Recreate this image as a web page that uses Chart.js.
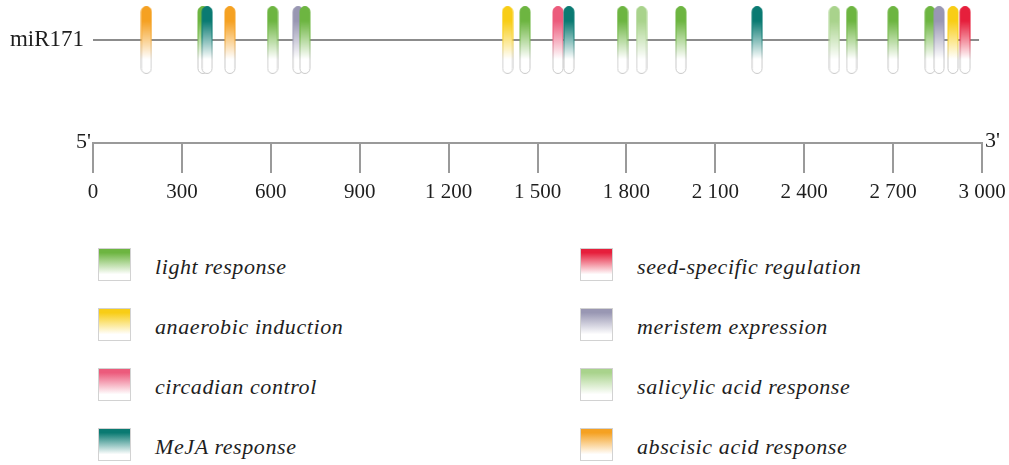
<!DOCTYPE html>
<html>
<head>
<meta charset="utf-8">
<script src="https://cdn.jsdelivr.net/npm/chart.js@4"></script>
<style>
  html, body { margin: 0; padding: 0; background: #fff; }
  body { width: 1009px; height: 465px; position: relative; overflow: hidden; }
  #track { position: absolute; left: 0; top: 0; }
  .legend-col { position: absolute; top: 237px; }
  .legend-item { position: relative; height: 60px; }
  .swatch {
    position: absolute; left: 0; top: 11px; width: 33px; height: 33px;
    box-sizing: border-box; border: 1px solid #d2d2d2;
  }
  .legend-text {
    position: absolute; left: 57px; top: 30px; transform: translateY(-50%);
    font-family: "Liberation Serif", serif;
    font-style: italic; font-size: 22px; letter-spacing: 0.6px;
    color: #1e1e1e; white-space: nowrap;
  }
</style>
</head>
<body>
<canvas id="track" width="1009" height="220"></canvas>
<div id="legendLeft" class="legend-col" style="left:98px"></div>
<div id="legendRight" class="legend-col" style="left:580px"></div>
<script>
// cis-acting element classes, their colours and site positions (bp) along the promoter
const elementNames = [
  'light response', 'anaerobic induction', 'circadian control', 'MeJA response',
  'seed-specific regulation', 'meristem expression', 'salicylic acid response', 'abscisic acid response'
];
const elementColors = [
  '#6db541', '#f8cd16', '#ec5b7c', '#0a7a72',
  '#e61f3c', '#9997b3', '#a9d38c', '#f5a122'
];
const lightResponse       = [371, 606, 715, 1458, 1787, 1984, 2560, 2700, 2825];
const anaerobicInduction  = [1399, 2902];
const circadianControl    = [1569];
const mejaResponse        = [385, 1606, 2241];
const seedSpecific        = [2943];
const meristemExpression  = [692, 2855];
const salicylicResponse   = [1851, 2502];
const abscisicResponse    = [180, 462];
const sitesByElement = [
  lightResponse, anaerobicInduction, circadianControl, mejaResponse,
  seedSpecific, meristemExpression, salicylicResponse, abscisicResponse
];

const geneLabel = 'miR171';
const promoterSpan = [0, 2990];
const axisTicks = [0, 300, 600, 900, 1200, 1500, 1800, 2100, 2400, 2700, 3000];

// legend layout: left column then right column
const legendLeft = [0, 1, 2, 3];
const legendRight = [4, 5, 6, 7];

// ---------------------------------------------------------------------------
const SERIF = '"Liberation Serif", "Times New Roman", serif';
const LANE = 40;          // y value of the promoter lane on the 0..143 vertical scale
const AXIS_BOTTOM = 143;  // height of plotting band

function formatBp(v) {
  if (v < 1000) return String(v);
  return Math.floor(v / 1000) + ' ' + String(v % 1000).padStart(3, '0');
}

// pill-shaped site marker, colour fading to white downward
function makePill(color) {
  const w = 12, h = 68;
  const c = document.createElement('canvas');
  c.width = w; c.height = h;
  const g = c.getContext('2d');
  const x = 1, y = 0.5, pw = 10, ph = 67, r = 5;
  g.beginPath();
  g.roundRect(x, y, pw, ph, r);
  const fill = g.createLinearGradient(0, 0, 0, h);
  fill.addColorStop(0, color);
  fill.addColorStop(0.22, color);
  fill.addColorStop(0.78, '#ffffff');
  fill.addColorStop(1, '#ffffff');
  g.fillStyle = fill;
  g.fill();
  const edge = g.createLinearGradient(0, 0, 0, h);
  edge.addColorStop(0, color);
  edge.addColorStop(0.45, color);
  edge.addColorStop(0.8, '#c9c9c9');
  edge.addColorStop(1, '#c9c9c9');
  g.strokeStyle = edge;
  g.lineWidth = 1;
  g.stroke();
  return c;
}
const pills = elementColors.map(makePill);

// all sites in one dataset, ordered by position so later sites overlap earlier ones
const sites = [];
sitesByElement.forEach((arr, k) => arr.forEach(pos => sites.push({ x: pos, y: LANE, kind: k })));
sites.sort((a, b) => a.x - b.x);

const endLabels = {
  id: 'endLabels',
  afterDraw(chart) {
    const { ctx } = chart;
    const xs = chart.scales.x;
    ctx.save();
    ctx.fillStyle = '#1e1e1e';
    ctx.font = '22px ' + SERIF;
    ctx.textBaseline = 'alphabetic';
    ctx.textAlign = 'right';
    ctx.fillText("5'", xs.getPixelForValue(0) - 2, 148);
    ctx.textAlign = 'left';
    ctx.fillText("3'", xs.getPixelForValue(3000) + 3, 147);
    ctx.restore();
  }
};

new Chart(document.getElementById('track'), {
  type: 'scatter',
  data: {
    datasets: [
      {
        label: 'sites',
        data: sites,
        pointStyle: (ctx) => pills[ctx.raw ? ctx.raw.kind : 0],
        pointRadius: 6,
        showLine: false
      },
      {
        type: 'line',
        label: geneLabel,
        data: promoterSpan.map(v => ({ x: v, y: LANE })),
        borderColor: '#8c8c8c',
        borderWidth: 2,
        pointRadius: 0,
        fill: false
      }
    ]
  },
  options: {
    responsive: false,
    animation: false,
    events: [],
    layout: { autoPadding: false, padding: { left: 0, right: 27, top: 0, bottom: 0 } },
    plugins: { legend: { display: false }, tooltip: { enabled: false } },
    scales: {
      x: {
        type: 'linear',
        min: 0, max: 3000,
        afterBuildTicks: (s) => { s.ticks = axisTicks.map(v => ({ value: v })); },
        afterFit: (s) => { s.height = 220 - AXIS_BOTTOM; s.paddingLeft = 0; s.paddingRight = 0; },
        ticks: {
          autoSkip: false, maxRotation: 0, padding: 7,
          color: '#1e1e1e',
          font: { family: SERIF, size: 21 },
          callback: (v) => formatBp(v)
        },
        grid: { drawOnChartArea: false, drawTicks: true, tickLength: 30, color: '#9a9a9a', lineWidth: 2 },
        border: { display: true, color: '#9a9a9a', width: 2 }
      },
      y: {
        type: 'linear',
        min: 0, max: AXIS_BOTTOM, reverse: true,
        afterBuildTicks: (s) => { s.ticks = [{ value: LANE }]; },
        afterFit: (s) => { s.width = 93; s.paddingTop = 0; s.paddingBottom = 0; },
        ticks: {
          padding: 9,
          color: '#1e1e1e',
          font: { family: SERIF, size: 23 },
          callback: () => geneLabel
        },
        grid: { display: false, drawTicks: false },
        border: { display: false }
      }
    }
  },
  plugins: [endLabels]
});

// legend
function buildLegend(el, indices) {
  indices.forEach(k => {
    const item = document.createElement('div');
    item.className = 'legend-item';
    const sw = document.createElement('div');
    sw.className = 'swatch';
    const col = elementColors[k];
    sw.style.background = `linear-gradient(to bottom, ${col} 0%, ${col} 12%, #ffffff 82%, #ffffff 100%)`;
    const tx = document.createElement('div');
    tx.className = 'legend-text';
    tx.textContent = elementNames[k];
    item.appendChild(sw);
    item.appendChild(tx);
    el.appendChild(item);
  });
}
buildLegend(document.getElementById('legendLeft'), legendLeft);
buildLegend(document.getElementById('legendRight'), legendRight);
</script>
</body>
</html>
